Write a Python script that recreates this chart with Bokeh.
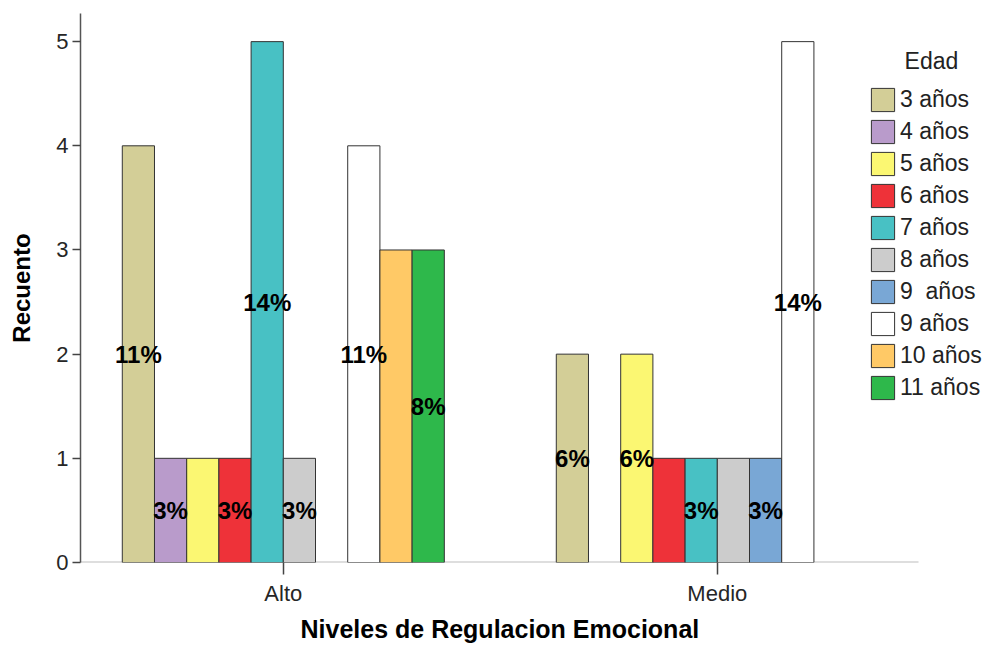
from bokeh.plotting import figure
from bokeh.models import (Range1d, ColumnDataSource, Legend, LegendItem, Label,
                          FixedTicker, Title)
from bokeh.core.properties import value
from bokeh.embed import file_html
from bokeh.resources import INLINE

# Counts per regulation level and age group
groups = ["Alto", "Medio"]
ages = ["3 años", "4 años", "5 años", "6 años", "7 años", "8 años",
        "9\u00a0 años", "9 años", "10 años", "11 años"]
alto = [4, 1, 1, 1, 5, 1, 0, 4, 3, 3]
medio = [2, 0, 2, 1, 1, 1, 1, 5, 0, 0]
colors = ["#D3CE97", "#B99BCB", "#FBF772", "#EE3239", "#48C1C4", "#CCCCCC",
          "#79A7D5", "#FFFFFF", "#FFC966", "#2EB84B"]
y_ticks = [0, 1, 2, 3, 4, 5]

# Bars that carry a percentage label (crowded ones are left unlabelled)
labelled = {
    "Alto": ["3 años", "4 años", "6 años", "7 años", "8 años", "9 años", "11 años"],
    "Medio": ["3 años", "5 años", "7 años", "9\u00a0 años", "9 años"],
}

FONT = "Liberation Sans"
counts = {"Alto": alto, "Medio": medio}
total = sum(alto) + sum(medio)
bar_w = 0.0742
n = len(ages)
x_start, x_end = -0.4673, 1.6364
axis_end = 1.4636   # where the category baseline stops, left of the legend

p = figure(width=993, height=647, output_backend="svg", toolbar_location=None,
           x_range=Range1d(x_start, x_end), y_range=Range1d(0, 5.27),
           min_border_left=80, min_border_right=0, min_border_top=13,
           min_border_bottom=85)
p.outline_line_color = None
p.xgrid.visible = False
p.ygrid.visible = False
p.background_fill_color = "white"

# baseline of the category axis
p.segment(x0=[x_start], y0=[0], x1=[axis_end], y1=[0],
          line_color="#BDBDBD", line_width=2)

items = []
lab_x, lab_y, lab_t = [], [], []
for i, age in enumerate(ages):
    xs, tops = [], []
    for g, grp in enumerate(groups):
        v = counts[grp][i]
        if v == 0:
            continue
        x = g + (i - (n - 1) / 2) * bar_w
        xs.append(x)
        tops.append(v)
        if age in labelled[grp]:
            lab_x.append(x)
            lab_y.append(v / 2)
            lab_t.append(f"{round(100 * v / total)}%")
    src = ColumnDataSource(dict(x=xs, top=tops))
    r = p.vbar(x="x", top="top", width=bar_w, bottom=0, source=src,
               fill_color=colors[i], line_color="#333333", line_width=1)
    items.append(LegendItem(label=age, renderers=[r]))

p.text(x="x", y="y", text="t", source=ColumnDataSource(dict(x=lab_x, y=lab_y, t=lab_t)),
       text_font=value(FONT), text_font_style="bold", text_font_size="24px",
       text_align="center", text_baseline="middle", text_color="black")

# Axes
p.xaxis.ticker = FixedTicker(ticks=list(range(len(groups))), minor_ticks=[])
p.xaxis.major_label_overrides = {i: g for i, g in enumerate(groups)}
p.yaxis.ticker = FixedTicker(ticks=y_ticks, minor_ticks=[])
for ax in (p.xaxis[0], p.yaxis[0]):
    ax.major_label_text_font = FONT
    ax.major_label_text_font_size = "22px"
    ax.major_label_text_color = "#262626"
    ax.axis_label_text_font = FONT
    ax.axis_label_text_font_style = "bold"
    ax.axis_label_text_font_size = "24px"
    ax.axis_label_text_color = "black"
    ax.minor_tick_line_color = None
    ax.major_tick_in = 0

p.xaxis.axis_line_color = None
p.xaxis.major_tick_out = 12
p.xaxis.major_tick_line_color = "#444444"
p.xaxis.major_tick_line_width = 1.5
p.xaxis.major_label_standoff = 6

p.yaxis.axis_label = "Recuento"
p.yaxis.axis_line_color = "#555555"
p.yaxis.axis_line_width = 1.5
p.yaxis.major_tick_out = 8
p.yaxis.major_tick_line_color = "#444444"
p.yaxis.major_tick_line_width = 1.5
p.yaxis.major_label_standoff = 4
p.yaxis.axis_label_standoff = 18

# x-axis title, centred under the category baseline
p.add_layout(Title(text="Niveles de Regulacion Emocional", align="left",
                   offset=220, text_font=FONT, text_font_style="bold",
                   text_font_size="25px", text_color="black", standoff=9),
             "below")

legend = Legend(items=items, location=(788, 160), padding=0, margin=0,
                border_line_color=None, background_fill_alpha=0,
                glyph_width=29, glyph_height=29, label_height=23, spacing=3,
                label_standoff=3, label_text_font=FONT,
                label_text_font_size="23px", label_text_color="#222222")
p.add_layout(legend)

p.add_layout(Label(x=1.4935, y=4.81, text="Edad", text_font=FONT,
                   text_font_size="23px", text_color="#222222",
                   text_align="center", text_baseline="middle"))

open("out.html", "w").write(file_html(p, INLINE))
